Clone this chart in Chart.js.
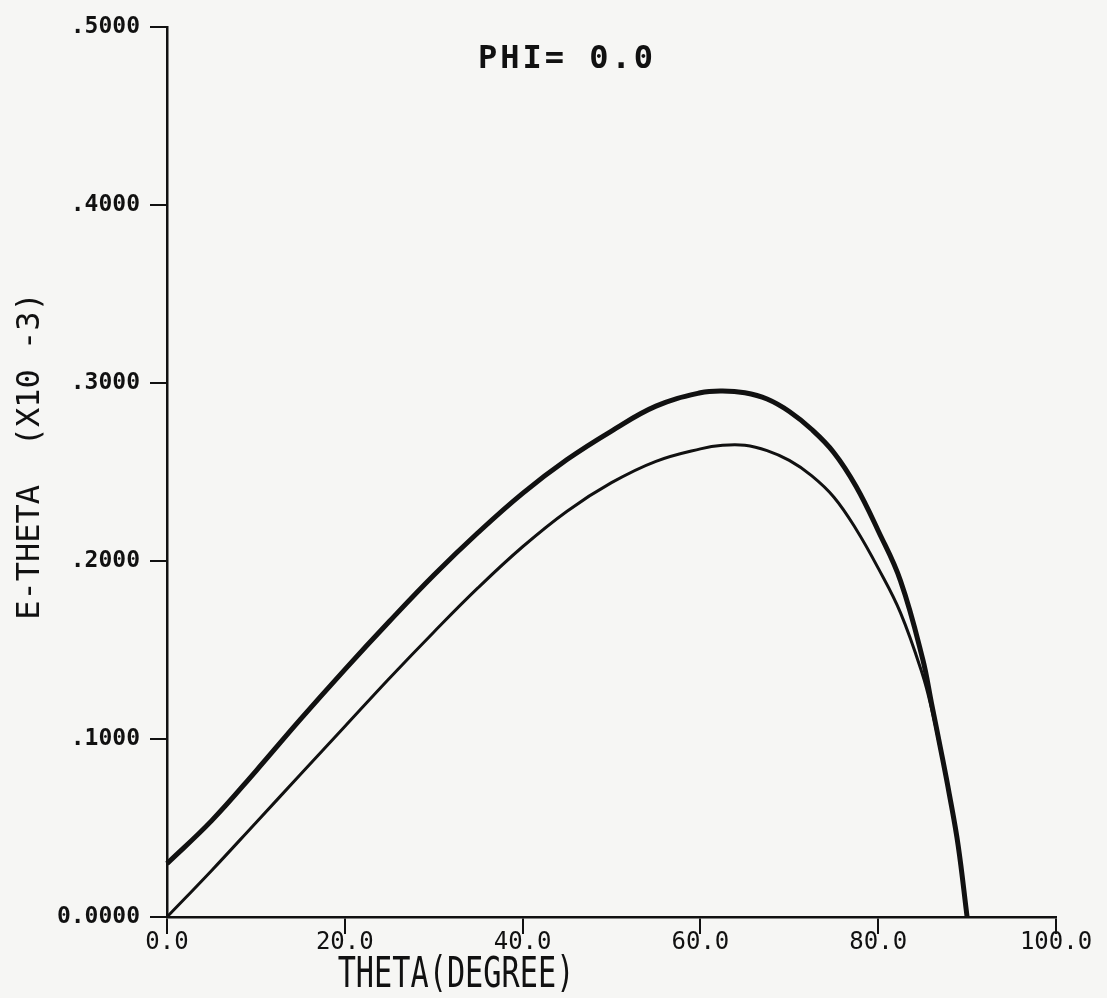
<!DOCTYPE html>
<html>
<head>
<meta charset="utf-8">
<title>PHI= 0.0</title>
<script src="https://cdn.jsdelivr.net/npm/chart.js@4/dist/chart.umd.min.js"></script>
<style>
  html, body { margin: 0; padding: 0; background: #f6f6f4; }
  #wrap { width: 1107px; height: 998px; position: relative; }
</style>
</head>
<body>
<div id="wrap"><canvas id="chart"></canvas></div>
<script>
// values (theta in degrees, E-theta x10^-3)
const thetaDeg = [0, 5, 10, 15, 20, 25, 30, 35, 40, 45, 50, 55, 60, 62.5, 65, 67.5, 70, 72.5, 75, 77.5, 80, 82.5, 85, 86, 87, 88, 89, 90];
const upperCurve = [0.030, 0.054, 0.082, 0.111, 0.139, 0.166, 0.192, 0.216, 0.238, 0.257, 0.273, 0.287, 0.2945, 0.2955, 0.2945, 0.291, 0.284, 0.274, 0.261, 0.242, 0.217, 0.189, 0.145, 0.120, 0.095, 0.069, 0.040, 0.0];
const lowerCurve = [0.0, 0.026, 0.053, 0.080, 0.107, 0.134, 0.160, 0.185, 0.208, 0.228, 0.244, 0.256, 0.263, 0.265, 0.265, 0.262, 0.2565, 0.248, 0.236, 0.218, 0.196, 0.171, 0.136, 0.117, 0.094, 0.069, 0.040, 0.0];

const xTickLabels = ['0.0', '20.0', '40.0', '60.0', '80.0', '100.0'];
const yTickLabels = ['0.0000', '.1000', '.2000', '.3000', '.4000', '.5000'];

const plotTitle = 'PHI= 0.0';
const xTitle = 'THETA(DEGREE)';
const yTitle = 'E-THETA  (X10 -3)';

const ink = '#111';
const mono = '"DejaVu Sans Mono", "Liberation Mono", monospace';

const toPoints = (ys) => thetaDeg.map((t, i) => ({ x: t, y: ys[i] }));

// titles are drawn by hand so they can sit inside the plot and look like plotter lettering
const plotterText = {
  id: 'plotterText',
  afterDraw(chart) {
    const { ctx, chartArea } = chart;
    ctx.save();
    ctx.fillStyle = ink;
    ctx.textAlign = 'center';
    ctx.textBaseline = 'middle';

    ctx.font = 'bold 32px ' + mono;
    ctx.letterSpacing = '3px';
    ctx.fillText(plotTitle, chartArea.left + 400, chartArea.top + 33);
    ctx.letterSpacing = '0px';

    ctx.save();
    ctx.translate(chartArea.left + 289, chartArea.bottom + 59);
    ctx.scale(0.72, 1);
    ctx.font = '42px ' + mono;
    ctx.fillText(xTitle, 0, 0);
    ctx.restore();

    ctx.save();
    ctx.translate(31, chartArea.top + 429);
    ctx.rotate(-Math.PI / 2);
    ctx.font = '32px ' + mono;
    ctx.fillText(yTitle, 0, 0);
    ctx.restore();

    ctx.restore();
  }
};

const axisGrid = {
  display: true,
  drawOnChartArea: false,
  drawTicks: true,
  tickLength: 17,
  color: ink,
  lineWidth: 2
};

new Chart(document.getElementById('chart'), {
  type: 'line',
  data: {
    datasets: [
      {
        label: 'upper',
        data: toPoints(upperCurve),
        borderColor: ink,
        borderWidth: 5,
        pointRadius: 0,
        tension: 0.4,
        clip: false
      },
      {
        label: 'lower',
        data: toPoints(lowerCurve),
        borderColor: ink,
        borderWidth: 3,
        pointRadius: 0,
        tension: 0.4,
        clip: false
      }
    ]
  },
  options: {
    responsive: true,
    maintainAspectRatio: false,
    animation: false,
    layout: { padding: { left: 40, right: 51, top: 27, bottom: 31 } },
    plugins: {
      legend: { display: false },
      title: { display: false },
      tooltip: { enabled: false }
    },
    scales: {
      x: {
        type: 'linear',
        min: 0,
        max: 100,
        border: { display: true, color: ink, width: 2.5 },
        grid: axisGrid,
        ticks: {
          stepSize: 20,
          padding: -6,
          color: ink,
          font: { family: mono, size: 24 },
          maxRotation: 0,
          callback: (v, i) => xTickLabels[i]
        },
        afterFit: (s) => { s.height = 50; }
      },
      y: {
        type: 'linear',
        min: 0,
        max: 0.5,
        border: { display: true, color: ink, width: 2.5 },
        grid: axisGrid,
        ticks: {
          stepSize: 0.1,
          padding: 10,
          color: ink,
          font: { family: mono, size: 23, weight: 'bold' },
          callback: (v, i) => yTickLabels[i]
        },
        afterFit: (s) => { s.width = 127; }
      }
    }
  },
  plugins: [plotterText]
});
</script>
</body>
</html>
